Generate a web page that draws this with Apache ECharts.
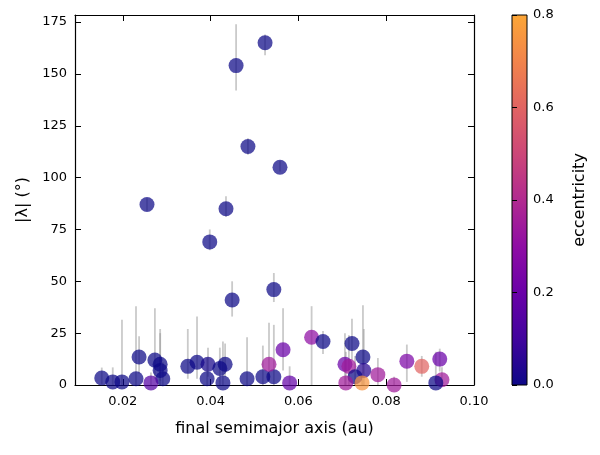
<!DOCTYPE html>
<html><head><meta charset="utf-8">
<script src="https://cdn.jsdelivr.net/npm/echarts@6/dist/echarts.min.js"></script>
<style>html,body{margin:0;padding:0;background:#fff}#chart{width:600px;height:455px}</style>
</head><body><div id="chart"></div>
<script>
const semiAxis = [0.0524,0.0458,0.0485,0.0558,0.0255,0.0435,0.0398,0.0449,0.0544,
  0.0152,0.0177,0.0198,0.0230,0.0237,0.0273,0.0285,0.0285,0.0291,0.0264,0.0348,0.0369,0.0394,0.0421,0.0433,0.0392,0.0428,0.0483,0.0519,0.0544,0.0533,0.0565,
  0.0580,0.0630,0.0656,0.0722,0.0706,0.0715,0.0747,0.0749,0.0729,0.0708,0.0745,0.0781,0.0818,0.0847,0.0881,0.0922,0.0927,0.0913];
const lambda = [165,154,115,105,87,85,69,41,46,
  3.4,1.5,1.5,3,13.5,12,10,7,3,1,9,11,10,8,10,3,1,3,4,4,10,17,
  1,23,21,20,10,9,13.5,7,4,1,1,5,0,11.5,9,12.5,2.5,1];
const ecc = [0,0,0,0,0,0,0,0,0,
  0,0,0,0,0,0,0,0,0,0.15,0,0,0.02,0,0,0,0,0,0,0,0.35,0.2,
  0.18,0.3,0,0,0.2,0.35,0,0.05,0,0.35,0.75,0.35,0.35,0.25,0.6,0.2,0.35,0];
const errLo = [6,12,4,2,3,4,4,8,6,
  3,1.5,1.5,3,8,9,8,7,3,1,6,8,6,8,6,3,1,3,4,4,8,10,
  1,23,6,8,10,9,8,7,4,1,1,5,0,10,5,6,2.5,1];
const errHi = [4,20,4,3,3,6,6,9,8,
  5,7,30,35,10,25,15,20,8,5,18,22,8,10,10,10,20,20,15,25,20,20,
  8,15,5,12,15,15,25,20,10,15,5,8,4,8,5,5,6,15];
const eccTicks = [0,0.2,0.4,0.6,0.8];
const plasma = ['#0d0887','#41049d','#6a00a8','#8f0da4','#b12a90','#cc4778','#e16462','#f2844b','#fca636','#fcce25','#f0f921'];
const eccMax = 0.8;

const pts = semiAxis.map((x,i)=>[x,lambda[i],ecc[i]]);
const bars = semiAxis.map((x,i)=>[x,Math.max(0,lambda[i]-errLo[i]),lambda[i]+errHi[i]]);
const font = 'DejaVu Sans';
const gradStops = plasma.slice(0,9).map((c,i)=>({offset:1-i/8,color:c}));

const chart = echarts.init(document.getElementById('chart'));
chart.setOption({
  animation:false,
  textStyle:{fontFamily:font},
  grid:[{left:75,right:126,top:15,bottom:70,show:false},
        {left:512,width:15,top:15,bottom:70,show:true,borderColor:'#000',borderWidth:1,
         backgroundColor:{type:'linear',x:0,y:0,x2:0,y2:1,colorStops:gradStops}}],
  xAxis:[
    {type:'value',gridIndex:0,min:0.0091,max:0.1,name:'final semimajor axis (au)',nameLocation:'middle',nameGap:36,
     nameTextStyle:{fontSize:16,color:'#000'},
     axisLine:{onZero:false,lineStyle:{color:'#000',width:1.2}},
     axisTick:{inside:true,length:6,customValues:[0.02,0.04,0.06,0.08,0.10],lineStyle:{color:'#000'}},
     axisLabel:{customValues:[0.02,0.04,0.06,0.08,0.10],formatter:v=>v.toFixed(2),fontSize:13,color:'#000',margin:10},
     splitLine:{show:false}},
    {type:'value',gridIndex:0,position:'top',min:0.0091,max:0.1,
     axisLine:{onZero:false,lineStyle:{color:'#000',width:1.2}},
     axisTick:{inside:true,length:6,customValues:[0.02,0.04,0.06,0.08,0.10],lineStyle:{color:'#000'}},
     axisLabel:{show:false},splitLine:{show:false}},
    {type:'value',gridIndex:1,min:0,max:1,show:false}
  ],
  yAxis:[
    {type:'value',gridIndex:0,min:0,max:178.4,interval:25,name:'|λ| (°)',nameLocation:'middle',nameGap:42,
     nameTextStyle:{fontSize:16,color:'#000'},
     axisLine:{onZero:false,lineStyle:{color:'#000',width:1.2}},
     axisTick:{inside:true,length:6,lineStyle:{color:'#000'}},
     axisLabel:{fontSize:13,color:'#000',showMaxLabel:false},splitLine:{show:false}},
    {type:'value',gridIndex:0,position:'right',min:0,max:178.4,interval:25,
     axisLine:{onZero:false,lineStyle:{color:'#000',width:1.2}},
     axisTick:{inside:true,length:6,lineStyle:{color:'#000'}},
     axisLabel:{show:false},splitLine:{show:false}},
    {type:'value',gridIndex:1,position:'right',min:0,max:eccMax,interval:0.2,
     name:'eccentricity',nameLocation:'middle',nameGap:45,nameRotate:90,
     nameTextStyle:{fontSize:16,color:'#000'},
     axisLine:{show:false},axisTick:{show:true,length:5,lineStyle:{color:'#000'}},
     axisLabel:{customValues:eccTicks,formatter:v=>v.toFixed(1),fontSize:13,color:'#000',margin:6},
     splitLine:{show:false}}
  ],
  visualMap:{show:false,type:'continuous',min:0,max:eccMax,dimension:2,seriesIndex:1,
    inRange:{color:plasma.slice(0,9)}},
  series:[
    {type:'custom',xAxisIndex:0,yAxisIndex:0,data:bars,z:1,
     renderItem:(params,api)=>{
       const a=api.coord([api.value(0),api.value(1)]);
       const b=api.coord([api.value(0),api.value(2)]);
       return {type:'line',shape:{x1:a[0],y1:a[1],x2:b[0],y2:b[1]},
         style:{stroke:'rgba(150,150,150,0.5)',lineWidth:1.8}};
     }},
    {type:'scatter',xAxisIndex:0,yAxisIndex:0,data:pts,symbolSize:15,z:2,
     itemStyle:{opacity:0.72}}
  ]
});
</script></body></html>
